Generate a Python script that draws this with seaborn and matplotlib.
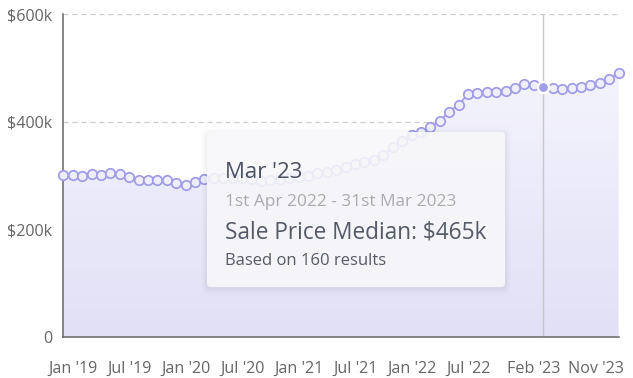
import numpy as np
import pandas as pd
import matplotlib
matplotlib.use("Agg")
import matplotlib.pyplot as plt
import matplotlib.transforms as mtrans
import seaborn as sns
from matplotlib.patches import FancyBboxPatch
from matplotlib.colors import LinearSegmentedColormap

# ---------------- data ----------------
months = [d.strftime("%b '%y") for d in pd.date_range("2018-12-01", "2023-11-01", freq="MS")]
median_price_k = [
    302, 301, 299, 303, 302, 305, 303, 298, 291, 292, 292, 291,   # Dec'18 - Nov'19
    286, 283, 289, 293, 295, 295, 295, 295, 293, 290, 291, 293,   # Dec'19 - Nov'20
    295, 297, 300, 304, 307, 310, 316, 321, 325, 329, 338, 353,   # Dec'20 - Nov'21
    364, 376, 381, 390, 401, 419, 432, 451, 454, 455, 456, 458,   # Dec'21 - Nov'22
    462, 470, 469, 465, 463, 460, 462, 465, 468, 472, 480, 490,   # Dec'22 - Nov'23
]
tick_labels = ["Jan '19", "Jul '19", "Jan '20", "Jul '20", "Jan '21",
               "Jul '21", "Jan '22", "Jul '22", "Feb '23", "Nov '23"]
y_ticks = [0, 200000, 400000, 600000]
y_tick_labels = ["0", "$200k", "$400k", "$600k"]
hover_month = "Mar '23"
tooltip_title = "Mar '23"
tooltip_range = "1st Apr 2022 - 31st Mar 2023"
tooltip_value = "Sale Price Median: $465k"
tooltip_count = "Based on 160 results"

df = pd.DataFrame({"idx": np.arange(len(months)), "month": months,
                   "price": np.array(median_price_k) * 1000})

# ---------------- style ----------------
sns.set_theme(style="white")
plt.rcParams["font.family"] = ["Open Sans", "DejaVu Sans"]

W, H = 633, 378
fig = plt.figure(figsize=(W / 100, H / 100), dpi=100)
x0p, x1p, y0p, y1p = 63.3, 618.6, 337.3, 14.0
ax = fig.add_axes([x0p / W, 1 - y0p / H, (x1p - x0p) / W, (y0p - y1p) / H])
ax.set_facecolor("white")

line_col = "#9e9be8"

# gradient area under the line
poly = ax.fill_between(df["idx"], df["price"], 0, color="none", lw=0)
grad = np.linspace(0, 1, 256).reshape(-1, 1)
cmap = LinearSegmentedColormap.from_list("g", ["#e1e0f6", "#f8f8fe"])
im = ax.imshow(grad, cmap=cmap, aspect="auto", origin="lower",
               extent=[0, len(months) - 1, 0, 600000], zorder=1)
im.set_clip_path(poly.get_paths()[0], ax.transData)

# dashed grid
for yv in y_ticks[1:]:
    ax.axhline(yv, color="#cccccc", lw=0.9, ls=(0, (4, 3.2)), zorder=0.5)

# hover line
hover_idx = months.index(hover_month)
ax.axvline(hover_idx, color="#c8c8c8", lw=1.0, zorder=2)

# line with markers
sns.lineplot(data=df, x="idx", y="price", ax=ax, color=line_col, lw=1.2,
             marker="o", markersize=6.8, markerfacecolor="#efeefc",
             markeredgecolor=line_col, markeredgewidth=1.25, zorder=3,
             clip_on=False)

# hovered point
hp = df[df["month"] == hover_month]
sns.scatterplot(data=hp, x="idx", y="price", ax=ax, s=64, color="#a29fe9",
                edgecolor="white", linewidth=1.6, zorder=5, clip_on=False)

ax.set_xlim(0, len(months) - 1)
ax.set_ylim(0, 600000)
ax.set_xticks([months.index(t) for t in tick_labels])
ax.set_xticklabels(tick_labels)
ax.set_yticks(y_ticks)
ax.set_yticklabels(y_tick_labels)
ax.set_xlabel("")
ax.set_ylabel("")

for s in ["top", "right"]:
    ax.spines[s].set_visible(False)
for s in ["left", "bottom"]:
    ax.spines[s].set_color("#666666")
    ax.spines[s].set_linewidth(1.1)
ax.tick_params(axis="both", direction="out", length=5.8, width=1.1,
               color="#666666", labelcolor="#666666", labelsize=11.6)
ax.tick_params(axis="x", pad=11.5)
ax.tick_params(axis="y", pad=2)

# keep the last x label inside the figure (right-aligned like the reference)
last = ax.get_xticklabels()[-1]
last.set_horizontalalignment("right")
last.set_transform(last.get_transform() +
                   mtrans.ScaledTranslation(5.5 / 100, 0, fig.dpi_scale_trans))

# ---------------- tooltip ----------------
tr = fig.dpi_scale_trans
bx, by, bw, bh = 207, 132, 298, 155  # pixel box (top-left origin)
ix, iy, iw, ih = bx / 100, (H - by - bh) / 100, bw / 100, bh / 100
for k, a in enumerate([0.018, 0.014, 0.010, 0.007]):
    e = (k + 1) * 0.015
    sh = FancyBboxPatch((ix - e, iy - e - 0.015), iw + 2 * e, ih + 2 * e,
                        boxstyle="round,pad=0,rounding_size=0.06",
                        transform=tr, facecolor="black", edgecolor="none",
                        alpha=a, zorder=4)
    fig.add_artist(sh)
box = FancyBboxPatch((ix, iy), iw, ih, boxstyle="round,pad=0,rounding_size=0.04",
                     transform=tr, facecolor="#fafafc", edgecolor="none",
                     alpha=0.86, zorder=5)
fig.add_artist(box)

tx = 225 / 100
fig.text(tx, (H - 178) / 100, tooltip_title, transform=tr, fontsize=16,
         color="#4b5162", va="baseline", ha="left", zorder=6)
fig.text(tx, (H - 206) / 100, tooltip_range, transform=tr, fontsize=12.4,
         color="#a9aab2", va="baseline", ha="left", zorder=6)
fig.text(tx, (H - 238) / 100, tooltip_value, transform=tr, fontsize=16.3,
         color="#545a68", va="baseline", ha="left", zorder=6)
fig.text(tx, (H - 265) / 100, tooltip_count, transform=tr, fontsize=12,
         color="#555a66", va="baseline", ha="left", zorder=6)

fig.savefig("out.png", dpi=100)
